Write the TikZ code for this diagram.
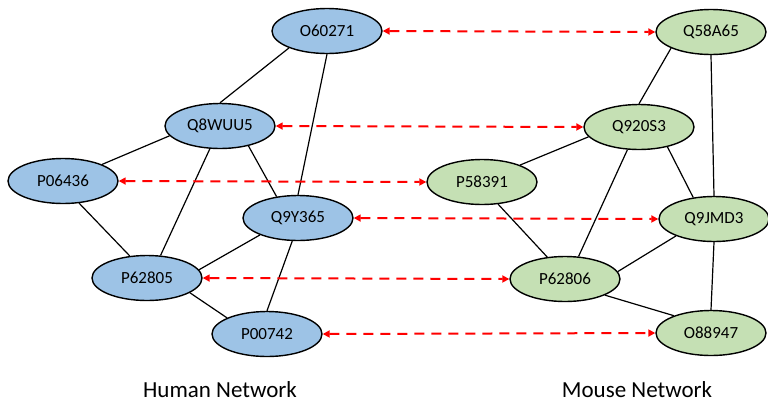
\documentclass[tikz,border=0pt]{standalone}
\usepackage{fontspec}
\setmainfont{Carlito}
\usetikzlibrary{shapes.geometric,arrows.meta}
\definecolor{hblue}{HTML}{9DC3E6}
\definecolor{mgreen}{HTML}{C5E0B4}
\tikzset{
  prot/.style={ellipse,draw=black,line width=1.4pt,minimum width=110pt,minimum height=45pt,inner sep=0pt,font=\fontsize{17}{20}\selectfont},
  human/.style={prot,fill=hblue},
  mouse/.style={prot,fill=mgreen},
  edge/.style={draw=black,line width=1.2pt},
  ortho/.style={draw=red,line width=2pt,dash pattern=on 10pt off 7pt,{Triangle[length=7pt,width=7pt]}-{Triangle[length=7pt,width=7pt]}},
  netlabel/.style={font=\fontsize{23}{26}\selectfont,anchor=base,inner sep=0pt}
}
\begin{document}
\begin{tikzpicture}[x=1pt,y=-1pt]
\useasboundingbox (0,0) rectangle (768,405);
% human
\node[human] (O60271) at (327,31) {O60271};
\node[human] (Q8WUU5) at (220,126) {Q8WUU5};
\node[human] (P06436) at (63,181) {P06436};
\node[human] (Q9Y365) at (298,218) {Q9Y365};
\node[human] (P62805) at (147,278) {P62805};
\node[human] (P00742) at (267,334) {P00742};
% mouse
\node[mouse] (Q58A65) at (711,32) {Q58A65};
\node[mouse] (Q920S3) at (639,127) {Q920S3};
\node[mouse] (P58391) at (482,182) {P58391};
\node[mouse] (Q9JMD3) at (714,219) {Q9JMD3};
\node[mouse] (P62806) at (565,279) {P62806};
\node[mouse] (O88947) at (711,333) {O88947};
% human edges
\draw[edge] (O60271.204) -- (Q8WUU5.90);
\draw[edge] (O60271.270) -- (Q9Y365.90);
\draw[edge] (Q8WUU5.191) -- (P06436.23);
\draw[edge] (Q8WUU5.246) -- (P62805.59);
\draw[edge] (Q8WUU5.325) -- (Q9Y365.135);
\draw[edge] (P06436.306) -- (P62805.128);
\draw[edge] (Q9Y365.204) -- (P62805.9);
\draw[edge] (Q9Y365.256) -- (P00742.90);
\draw[edge] (P62805.341) -- (P00742.158);
% mouse edges
\draw[edge] (Q58A65.202) -- (Q920S3.90);
\draw[edge] (Q58A65.270) -- (Q9JMD3.90);
\draw[edge] (Q920S3.191) -- (P58391.24);
\draw[edge] (Q920S3.243) -- (P62806.59);
\draw[edge] (Q920S3.325) -- (Q9JMD3.134);
\draw[edge] (P58391.306) -- (P62806.129);
\draw[edge] (Q9JMD3.204) -- (P62806.8);
\draw[edge] (Q9JMD3.270) -- (O88947.90);
\draw[edge] (P62806.338) -- (O88947.155);
% orthologs
\draw[ortho] (O60271.east) -- (Q58A65.west);
\draw[ortho] (Q8WUU5.east) -- (Q920S3.west);
\draw[ortho] (P06436.east) -- (P58391.west);
\draw[ortho] (Q9Y365.east) -- (Q9JMD3.west);
\draw[ortho] (P62805.east) -- (P62806.west);
\draw[ortho] (P00742.east) -- (O88947.west);
% labels
\node[netlabel] (hlab) at (220,397) {Human Network};
\node[netlabel] (mlab) at (637,397) {Mouse Network};
\end{tikzpicture}
\end{document}
